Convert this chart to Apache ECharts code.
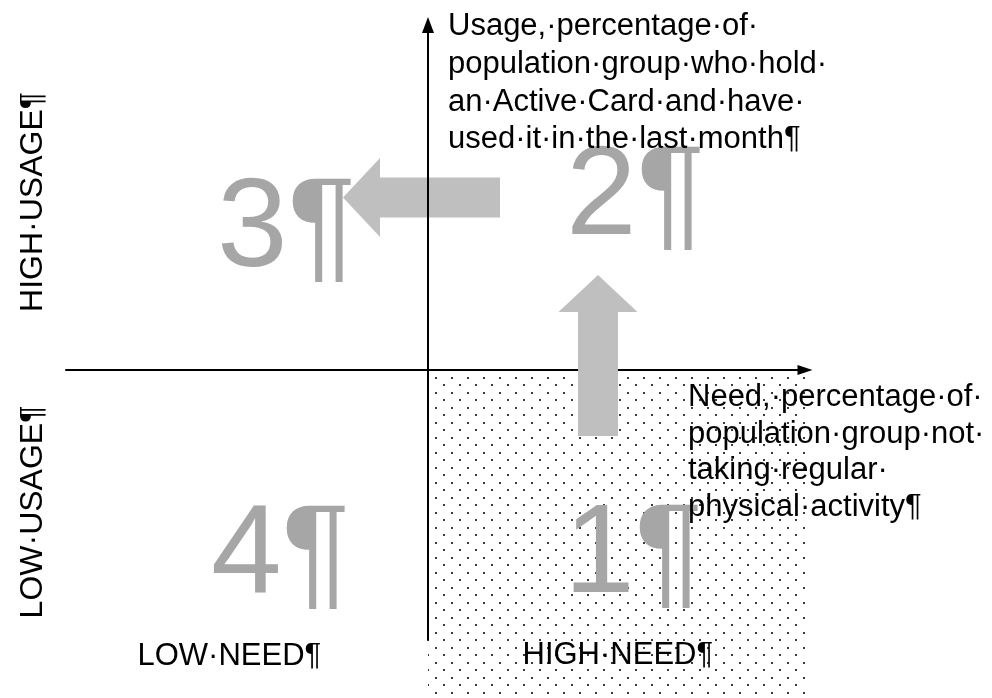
<!DOCTYPE html>
<html><head><meta charset="utf-8">
<script src="https://cdn.jsdelivr.net/npm/echarts@6/dist/echarts.min.js"></script>
<style>html,body{margin:0;padding:0;background:#fff}#c{width:992px;height:698px}</style>
</head><body><div id="c"></div>
<script>
// ---------- values (text content of the diagram) ----------
const quadrantLabels = ['1¶', '2¶', '3¶', '4¶'];
const usageTitleLines = ['Usage,·percentage·of·', 'population·group·who·hold·', 'an·Active·Card·and·have·', 'used·it·in·the·last·month¶'];
const needTitleLines = ['Need,·percentage·of·', 'population·group·not·', 'taking·regular·', 'physical·activity¶'];
const needLevels = ['LOW·NEED¶', 'HIGH·NEED¶'];
const usageLevels = ['LOW·USAGE¶', 'HIGH·USAGE¶'];
// movement arrows in axis units: [fromNeed, fromUsage, toNeed, toUsage]
const moveArrows = [[7.2, 17.25, -8.5, 17.25], [17.0, -6.6, 17.0, 9.5]];
// highlighted quadrant (high need / low usage) in axis units: [x0, y0, x1, y1]
const focusQuadrant = [[0, 0, 37.9, -33]];

// ---------- layout (axis units) ----------
const axisRange = {xMin: -36.2, xMax: 37.7, yMin: -27, yMax: 34.5};
const quadrantAnchor = [[13.6, -23.1], [13.8, 12.7], [-21.1, 9.5], [-21.7, -23.2]]; // left, baseline
const usageTitleAnchor = {x: 2.0, baselines: [33.3, 29.5, 25.7, 22.0]};
const needTitleAnchor = {x: 26.0, baselines: [-3.8, -7.5, -11.1, -14.8]};
const needLevelAnchor = [[-29.05, -29.7], [9.45, -29.6]];
const usageLevelAnchor = [[-38.4, -14.2], [-38.4, 16.8]]; // baseline x, centre y
const arrowShape = {shaft: 4.0, head: 7.9, headLen: 3.7};
const BIG = 127, SMALL = 31, ROT = 32;
const FONT = '"Liberation Sans", Arial, sans-serif';
const MID = 0.3465; // em distance from baseline to em-middle

// build text items
const textItems = [];
quadrantLabels.forEach((t, i) => textItems.push({t, x: quadrantAnchor[i][0], y: quadrantAnchor[i][1], fs: BIG, c: '#a6a6a6', rot: 0}));
usageTitleLines.forEach((t, i) => textItems.push({t, x: usageTitleAnchor.x, y: usageTitleAnchor.baselines[i], fs: SMALL, c: '#000', rot: 0}));
needTitleLines.forEach((t, i) => textItems.push({t, x: needTitleAnchor.x, y: needTitleAnchor.baselines[i], fs: SMALL, c: '#000', rot: 0}));
needLevels.forEach((t, i) => textItems.push({t, x: needLevelAnchor[i][0], y: needLevelAnchor[i][1], fs: SMALL, c: '#000', rot: 0}));
usageLevels.forEach((t, i) => textItems.push({t, x: usageLevelAnchor[i][0], y: usageLevelAnchor[i][1], fs: ROT, c: '#000', rot: 1}));

// dot pattern
const pc = document.createElement('canvas');
pc.width = 16; pc.height = 15;
const g = pc.getContext('2d');
g.fillStyle = '#3a3a3a';
g.fillRect(3, 2, 2, 2);
g.fillRect(11, 9, 2, 2);

const chart = echarts.init(document.getElementById('c'), null, {renderer: 'canvas'});

function arrowPoints(api, a) {
  const [x0, y0, x1, y1] = a;
  const dx = x1 - x0, dy = y1 - y0, L = Math.hypot(dx, dy);
  const ux = dx / L, uy = dy / L, nx = -uy, ny = ux;
  const bx = x1 - ux * arrowShape.headLen, by = y1 - uy * arrowShape.headLen;
  const s = arrowShape.shaft / 2, h = arrowShape.head / 2;
  const pts = [
    [x0 + nx * s, y0 + ny * s], [bx + nx * s, by + ny * s], [bx + nx * h, by + ny * h],
    [x1, y1],
    [bx - nx * h, by - ny * h], [bx - nx * s, by - ny * s], [x0 - nx * s, y0 - ny * s]
  ];
  return pts.map(p => api.coord(p));
}

const option = {
  animation: false,
  backgroundColor: '#fff',
  grid: {left: 66, right: 187, top: 25, bottom: 58, containLabel: false},
  xAxis: {
    type: 'value', min: axisRange.xMin, max: axisRange.xMax, z: 1,
    axisLine: {onZero: true, lineStyle: {color: '#000', width: 2}, symbol: ['none', 'triangle'], symbolSize: [10, 15]},
    axisTick: {show: false}, axisLabel: {show: false}, splitLine: {show: false}
  },
  yAxis: {
    type: 'value', min: axisRange.yMin, max: axisRange.yMax, z: 3,
    axisLine: {onZero: true, lineStyle: {color: '#000', width: 2}, symbol: ['none', 'triangle'], symbolSize: [12, 16]},
    axisTick: {show: false}, axisLabel: {show: false}, splitLine: {show: false}
  },
  series: [
    {
      type: 'custom', z: 0, silent: true,
      data: focusQuadrant,
      renderItem(params, api) {
        const p0 = api.coord([api.value(0), api.value(1)]);
        const p1 = api.coord([api.value(2), api.value(3)]);
        return {
          type: 'rect',
          shape: {x: Math.min(p0[0], p1[0]), y: Math.min(p0[1], p1[1]), width: Math.abs(p1[0] - p0[0]), height: Math.abs(p1[1] - p0[1])},
          style: {fill: {image: pc, repeat: 'repeat'}}
        };
      }
    },
    {
      type: 'custom', z: 2, silent: true,
      data: moveArrows,
      renderItem(params, api) {
        const a = [api.value(0), api.value(1), api.value(2), api.value(3)];
        return {type: 'polygon', shape: {points: arrowPoints(api, a)}, style: {fill: '#bfbfbf'}};
      }
    },
    {
      type: 'custom', z: 4, silent: true,
      data: textItems.map(d => [d.x, d.y]),
      renderItem(params, api) {
        const d = textItems[params.dataIndex];
        const p = api.coord([api.value(0), api.value(1)]);
        const font = d.fs + 'px ' + FONT;
        if (d.rot) {
          return {
            type: 'text', x: p[0] - MID * d.fs, y: p[1], rotation: Math.PI / 2,
            style: {text: d.t, font, fill: d.c, align: 'center', verticalAlign: 'middle'}
          };
        }
        return {
          type: 'text', x: p[0], y: p[1] - MID * d.fs,
          style: {text: d.t, font, fill: d.c, align: 'left', verticalAlign: 'middle'}
        };
      }
    }
  ]
};
chart.setOption(option);
</script>
</body></html>
